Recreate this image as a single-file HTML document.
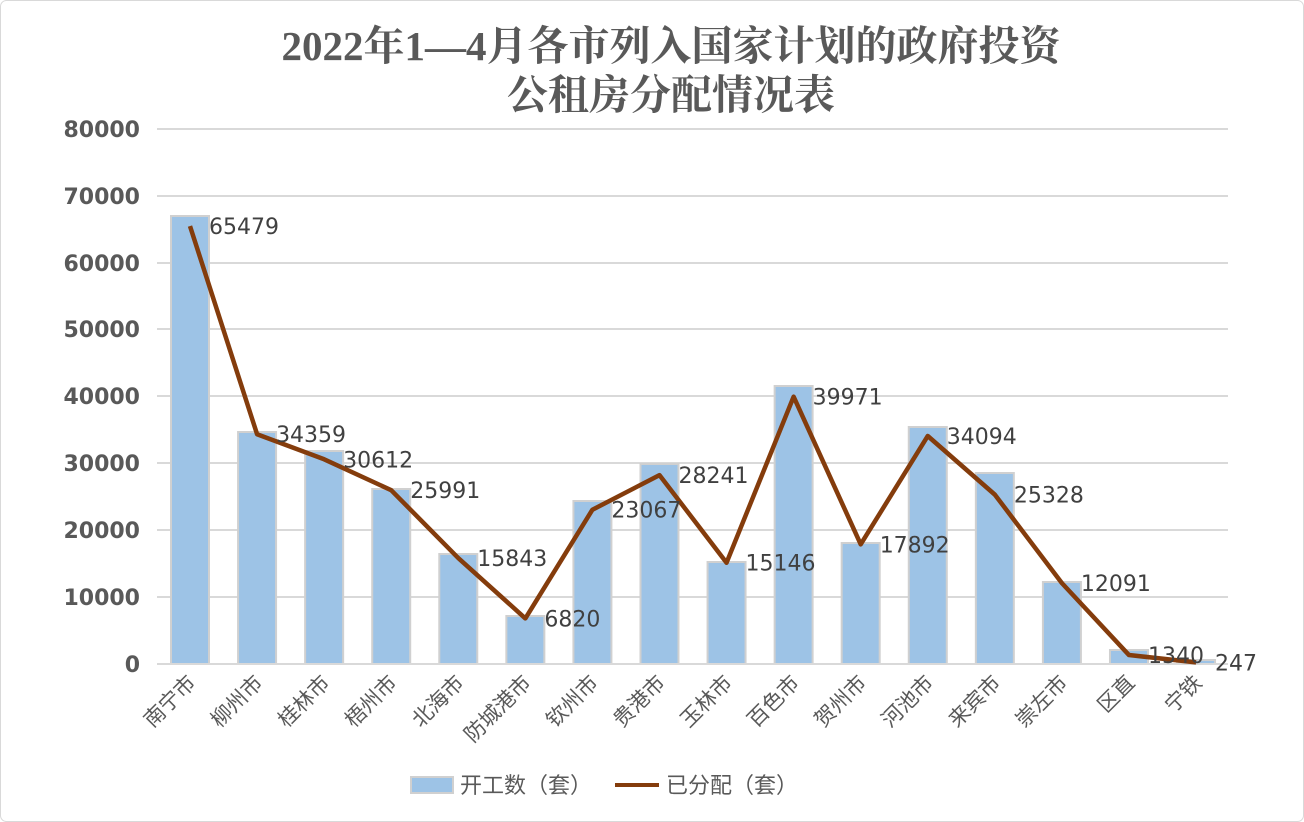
<!DOCTYPE html>
<html><head><meta charset="utf-8"><style>
body{margin:0;background:#fff}
svg{display:block}
</style></head><body>
<svg width="1304" height="822" xmlns="http://www.w3.org/2000/svg">
<rect x="0.5" y="0.5" width="1303" height="821" rx="6" fill="#fff" stroke="#d9d9d9"/>
<g font-family="'Liberation Serif','Noto Serif CJK SC',serif" font-weight="bold" font-size="41" fill="#595959" text-anchor="middle">
<text x="671" y="60">2022年1—4月各市列入国家计划的政府投资</text>
<text x="671" y="109">公租房分配情况表</text>
</g>
<g stroke="#d9d9d9" stroke-width="2">
<line x1="157" y1="129" x2="1228" y2="129"/><line x1="157" y1="196" x2="1228" y2="196"/>
<line x1="157" y1="263" x2="1228" y2="263"/><line x1="157" y1="329" x2="1228" y2="329"/>
<line x1="157" y1="396" x2="1228" y2="396"/><line x1="157" y1="463" x2="1228" y2="463"/>
<line x1="157" y1="530" x2="1228" y2="530"/><line x1="157" y1="597" x2="1228" y2="597"/>
</g>
<g font-family="'DejaVu Sans','Liberation Sans',sans-serif" font-weight="bold" font-size="22" fill="#595959" text-anchor="end">
<text x="140" y="137">80000</text><text x="140" y="204">70000</text><text x="140" y="271">60000</text>
<text x="140" y="337">50000</text><text x="140" y="404">40000</text><text x="140" y="471">30000</text>
<text x="140" y="538">20000</text><text x="140" y="605">10000</text><text x="140" y="672">0</text>
</g>
<g fill="#9dc3e6" stroke="#d0d0d0" stroke-width="2" id="bars"></g>
<line x1="157" y1="664" x2="1228" y2="664" stroke="#d9d9d9" stroke-width="2"/>
<polyline id="ln" fill="none" stroke="#843c0c" stroke-width="4.5" stroke-linejoin="round"/>
<g id="dl" font-family="'DejaVu Sans','Liberation Sans',sans-serif" font-size="22" fill="#404040"></g>
<g id="xl" font-family="'Liberation Sans','Noto Sans CJK SC',sans-serif" font-size="21" fill="#595959" text-anchor="end"></g>
<rect x="411" y="777" width="42" height="16" fill="#9dc3e6" stroke="#d0d0d0" stroke-width="2"/>
<line x1="615" y1="785" x2="659" y2="785" stroke="#843c0c" stroke-width="4"/>
<g font-family="'Liberation Sans','Noto Sans CJK SC',sans-serif" font-size="22" fill="#595959">
<text x="460" y="793">开工数（套）</text><text x="666" y="793">已分配（套）</text>
</g>
<script>
var names=["南宁市","柳州市","桂林市","梧州市","北海市","防城港市","钦州市","贵港市","玉林市","百色市","贺州市","河池市","来宾市","崇左市","区直","宁铁"];
var tops=[216,432,451,489,554,616,501,464,562,386,543,427,473,582,650,660];
var vals=[65479,34359,30612,25991,15843,6820,23067,28241,15146,39971,17892,34094,25328,12091,1340,247];
var ns="http://www.w3.org/2000/svg",b=document.getElementById("bars"),dl=document.getElementById("dl"),xl=document.getElementById("xl"),pts=[];
for(var i=0;i<16;i++){var cx=190+i*67.07;
var r=document.createElementNS(ns,"rect");r.setAttribute("x",cx-19);r.setAttribute("y",tops[i]);r.setAttribute("width",38);r.setAttribute("height",664-tops[i]);b.appendChild(r);
var y=664-vals[i]*0.0066875;pts.push(cx+","+y);
var t=document.createElementNS(ns,"text");t.setAttribute("x",cx+19);t.setAttribute("y",y+8);t.textContent=vals[i];dl.appendChild(t);
var u=document.createElementNS(ns,"text");u.setAttribute("transform","translate("+(cx+7)+",684) rotate(-45)");u.textContent=names[i];xl.appendChild(u);}
document.getElementById("ln").setAttribute("points",pts.join(" "));
</script>
</svg>
</body></html>
